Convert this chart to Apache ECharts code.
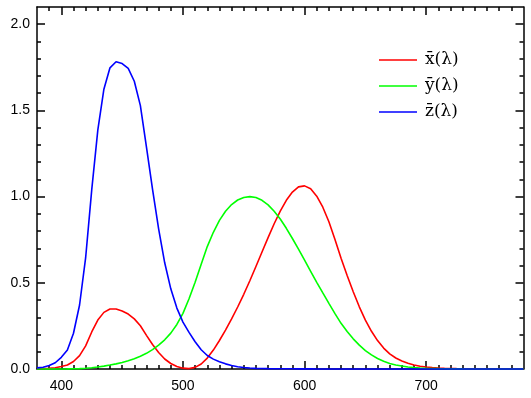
<!DOCTYPE html>
<html>
<head>
<meta charset="utf-8">
<script src="https://cdn.jsdelivr.net/npm/echarts@6/dist/echarts.min.js"></script>
<style>
	html, body { margin: 0; padding: 0; background: #fff; }
</style>
</head>
<body>
<div id="chart" style="width: 531px; height: 398px"></div>
<script>
	// wavelength (nm), 5 nm steps
	const wavelengths = [
		380, 385, 390, 395, 400, 405, 410, 415, 420, 425, 430, 435, 440, 445, 450, 455, 460, 465, 470, 475,
		480, 485, 490, 495, 500, 505, 510, 515, 520, 525, 530, 535, 540, 545, 550, 555, 560, 565, 570, 575,
		580, 585, 590, 595, 600, 605, 610, 615, 620, 625, 630, 635, 640, 645, 650, 655, 660, 665, 670, 675,
		680, 685, 690, 695, 700, 705, 710, 715, 720, 725, 730, 735, 740, 745, 750, 755, 760, 765, 770, 775, 780
	];
	const xBar = [
		0.0014, 0.0022, 0.0042, 0.0077, 0.0143, 0.0232, 0.0435, 0.0776, 0.1344, 0.2148, 0.2839, 0.3285, 0.3483, 0.3481, 0.3362, 0.3187, 0.2908, 0.2511, 0.1954, 0.1421,
		0.0956, 0.0580, 0.0320, 0.0147, 0.0049, 0.0024, 0.0093, 0.0291, 0.0633, 0.1096, 0.1655, 0.2257, 0.2904, 0.3597, 0.4334, 0.5121, 0.5945, 0.6784, 0.7621, 0.8425,
		0.9163, 0.9786, 1.0263, 1.0567, 1.0622, 1.0456, 1.0026, 0.9384, 0.8544, 0.7514, 0.6424, 0.5419, 0.4479, 0.3608, 0.2835, 0.2187, 0.1649, 0.1212, 0.0874, 0.0636,
		0.0468, 0.0329, 0.0227, 0.0158, 0.0114, 0.0081, 0.0058, 0.0041, 0.0029, 0.0020, 0.0014, 0.0010, 0.0007, 0.0005, 0.0003, 0.0002, 0.0002, 0.0001, 0.0001, 0.0001, 0.0000
	];
	const yBar = [
		0.0000, 0.0001, 0.0001, 0.0002, 0.0004, 0.0006, 0.0012, 0.0022, 0.0040, 0.0073, 0.0116, 0.0168, 0.0230, 0.0298, 0.0380, 0.0480, 0.0600, 0.0739, 0.0910, 0.1126,
		0.1390, 0.1693, 0.2080, 0.2586, 0.3230, 0.4073, 0.5030, 0.6082, 0.7100, 0.7932, 0.8620, 0.9149, 0.9540, 0.9803, 0.9950, 1.0000, 0.9950, 0.9786, 0.9520, 0.9154,
		0.8700, 0.8163, 0.7570, 0.6949, 0.6310, 0.5668, 0.5030, 0.4412, 0.3810, 0.3210, 0.2650, 0.2170, 0.1750, 0.1382, 0.1070, 0.0816, 0.0610, 0.0446, 0.0320, 0.0232,
		0.0170, 0.0119, 0.0082, 0.0057, 0.0041, 0.0029, 0.0021, 0.0015, 0.0010, 0.0007, 0.0005, 0.0004, 0.0002, 0.0002, 0.0001, 0.0001, 0.0001, 0.0000, 0.0000, 0.0000, 0.0000
	];
	const zBar = [
		0.0065, 0.0106, 0.0201, 0.0362, 0.0679, 0.1102, 0.2074, 0.3713, 0.6456, 1.0391, 1.3856, 1.6230, 1.7471, 1.7826, 1.7721, 1.7441, 1.6692, 1.5281, 1.2876, 1.0419,
		0.8130, 0.6162, 0.4652, 0.3533, 0.2720, 0.2123, 0.1582, 0.1117, 0.0783, 0.0573, 0.0422, 0.0298, 0.0203, 0.0134, 0.0088, 0.0058, 0.0039, 0.0028, 0.0021, 0.0018,
		0.0017, 0.0014, 0.0011, 0.0010, 0.0008, 0.0006, 0.0003, 0.0002, 0.0002, 0.0001, 0.0000, 0.0000, 0.0000, 0.0000, 0.0000, 0.0000, 0.0000, 0.0000, 0.0000, 0.0000,
		0.0000, 0.0000, 0.0000, 0.0000, 0.0000, 0.0000, 0.0000, 0.0000, 0.0000, 0.0000, 0.0000, 0.0000, 0.0000, 0.0000, 0.0000, 0.0000, 0.0000, 0.0000, 0.0000, 0.0000, 0.0000
	];
	const seriesNames = ['x\u0304(\u03bb)', 'y\u0304(\u03bb)', 'z\u0304(\u03bb)'];
	const seriesColors = ['#ff0000', '#00ff00', '#0000ff'];

	const xMajor = [400, 500, 600, 700];
	const xMinor = [390, 400, 410, 420, 430, 440, 450, 460, 470, 480, 490, 500, 510, 520, 530, 540, 550, 560, 570,
		580, 590, 600, 610, 620, 630, 640, 650, 660, 670, 680, 690, 700, 710, 720, 730, 740, 750, 760, 770];
	const yMajor = [0, 0.5, 1.0, 1.5, 2.0];
	const yMinor = [0.1, 0.2, 0.3, 0.4, 0.6, 0.7, 0.8, 0.9, 1.1, 1.2, 1.3, 1.4, 1.6, 1.7, 1.8, 1.9, 2.0];

	const chart = echarts.init(document.getElementById('chart'));
	const lineCol = '#000';
	const labelFont = { fontFamily: 'Liberation Sans', fontSize: 14, color: '#000' };

	function xAx(pos, ticks, len, withLabels, withLine) {
		return {
			type: 'value', position: pos, min: 380, max: 780,
			axisLine: { show: withLine, onZero: false, lineStyle: { color: lineCol, width: 1.5 } },
			axisTick: { show: true, inside: true, length: len, customValues: ticks, lineStyle: { color: lineCol, width: 1.5 } },
			axisLabel: withLabels
				? Object.assign({ show: true, margin: 10, customValues: xMajor }, labelFont)
				: { show: false },
			splitLine: { show: false }
		};
	}
	function yAx(pos, ticks, len, withLabels, withLine) {
		return {
			type: 'value', position: pos, min: 0, max: 2.1,
			axisLine: { show: withLine, onZero: false, lineStyle: { color: lineCol, width: 1.5 } },
			axisTick: { show: true, inside: true, length: len, customValues: ticks, lineStyle: { color: lineCol, width: 1.5 } },
			axisLabel: withLabels
				? Object.assign({ show: true, margin: 7, customValues: yMajor, formatter: v => v.toFixed(1) }, labelFont)
				: { show: false },
			splitLine: { show: false }
		};
	}

	chart.setOption({
		animation: false,
		backgroundColor: '#fff',
		grid: { left: 37, right: 7.5, top: 7, bottom: 29 },
		legend: {
			orient: 'vertical', left: 379, top: 51, padding: 0,
			itemWidth: 38, itemHeight: 18, itemGap: 8,
			icon: 'path://M0,0 L38,0 L38,1.6 L0,1.6 Z',
			textStyle: { fontFamily: 'DejaVu Serif', fontSize: 17, lineHeight: 18, color: '#000', padding: [0, 0, 0, 3] },
			data: seriesNames
		},
		xAxis: [
			xAx('bottom', xMajor, 8, true, true),
			xAx('bottom', xMinor, 4, false, false),
			xAx('top', xMajor, 8, false, true),
			xAx('top', xMinor, 4, false, false)
		],
		yAxis: [
			yAx('left', yMajor, 8, true, true),
			yAx('left', yMinor, 4, false, false),
			yAx('right', yMajor, 8, false, true),
			yAx('right', yMinor, 4, false, false)
		],
		series: [xBar, yBar, zBar].map((vals, i) => ({
			name: seriesNames[i],
			type: 'line',
			clip: false,
			symbol: 'none',
			color: seriesColors[i],
			lineStyle: { color: seriesColors[i], width: 1.6 },
			data: wavelengths.map((w, j) => [w, vals[j]])
		}))
	});
</script>
</body>
</html>
